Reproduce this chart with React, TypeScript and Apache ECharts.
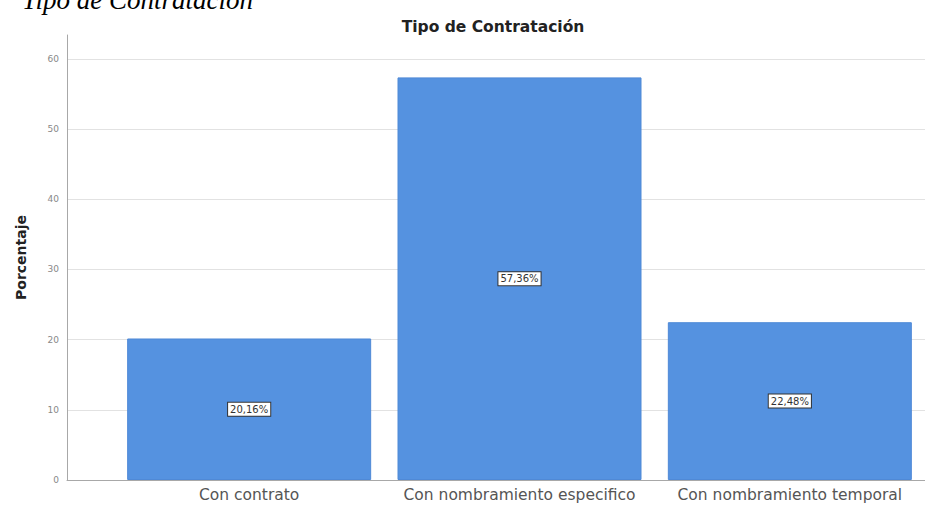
import React, { useEffect, useRef } from "react";
import * as echarts from "echarts";

const categories = ["Con contrato", "Con nombramiento especifico", "Con nombramiento temporal"];
const percentages = [20.16, 57.36, 22.48];
const yTicks = [0, 10, 20, 30, 40, 50, 60];

const AXIS_MAX = 63.4;
const BAR_COLOR = "#5592e0";
const SANS = "DejaVu Sans";

export default function App() {
  const ref = useRef<HTMLDivElement>(null);

  useEffect(() => {
    if (!ref.current) return;
    const chart = echarts.init(ref.current, undefined, { renderer: "svg" });
    // one split line per tick; the extra line at the axis top stays invisible
    const gridColors = yTicks.map(() => "#e2e2e2").concat(["rgba(0,0,0,0)"]);

    chart.setOption({
      animation: false,
      backgroundColor: "#ffffff",
      title: {
        text: "Tipo de Contratación",
        left: 488,
        top: 14,
        textAlign: "center",
        textStyle: { fontFamily: SANS, fontSize: 15.5, fontWeight: "bold", color: "#222" },
      },
      graphic: [
        {
          type: "text",
          left: 22,
          top: -14,
          style: {
            text: "Tipo de Contratación",
            font: "italic 27px 'Liberation Serif'",
            fill: "#000",
          },
        },
      ],
      grid: [
        { left: 67, right: 0, top: 35, bottom: 27 },
        { left: 114, right: -8, top: 35, bottom: 27 },
      ],
      xAxis: [
        {
          gridIndex: 0,
          type: "value",
          min: 0,
          max: 1,
          axisLine: { show: true, lineStyle: { color: "#a8a8a8" } },
          axisTick: { show: false },
          axisLabel: { show: false },
          splitLine: { show: false },
        },
        {
          gridIndex: 1,
          type: "category",
          data: categories,
          axisLine: { show: false },
          axisTick: { show: false },
          axisLabel: {
            interval: 0,
            margin: 7,
            fontFamily: SANS,
            fontSize: 15.5,
            color: "#555",
          },
        },
      ],
      yAxis: [
        {
          gridIndex: 0,
          type: "value",
          min: 0,
          max: AXIS_MAX,
          interval: 10,
          name: "Porcentaje",
          nameLocation: "middle",
          nameGap: 39,
          nameTextStyle: { fontFamily: SANS, fontSize: 14, fontWeight: "bold", color: "#222" },
          axisLine: { show: true, lineStyle: { color: "#a8a8a8" } },
          axisTick: { show: false },
          axisLabel: {
            showMaxLabel: false,
            margin: 8,
            fontFamily: SANS,
            fontSize: 9,
            color: "#888",
          },
          splitLine: { show: true, lineStyle: { color: gridColors, width: 1 } },
        },
        {
          gridIndex: 1,
          type: "value",
          min: 0,
          max: AXIS_MAX,
          show: false,
          splitLine: { show: false },
        },
      ],
      series: [
        {
          type: "bar",
          xAxisIndex: 1,
          yAxisIndex: 1,
          data: percentages,
          barWidth: 244,
          itemStyle: { color: BAR_COLOR, borderColor: "#4f89d6", borderWidth: 1 },
          label: {
            show: true,
            position: "inside",
            formatter: (p: any) => p.value.toFixed(2).replace(".", ",") + "%",
            fontFamily: SANS,
            fontSize: 10,
            color: "#333",
            backgroundColor: "#ffffff",
            borderColor: "#333",
            borderWidth: 1,
            padding: [2, 2, 1, 2],
          },
        },
      ],
    });

    return () => chart.dispose();
  }, []);

  return (
    <div
      ref={ref}
      style={{ position: "fixed", left: 0, top: 0, width: 925, height: 507 }}
    />
  );
}
